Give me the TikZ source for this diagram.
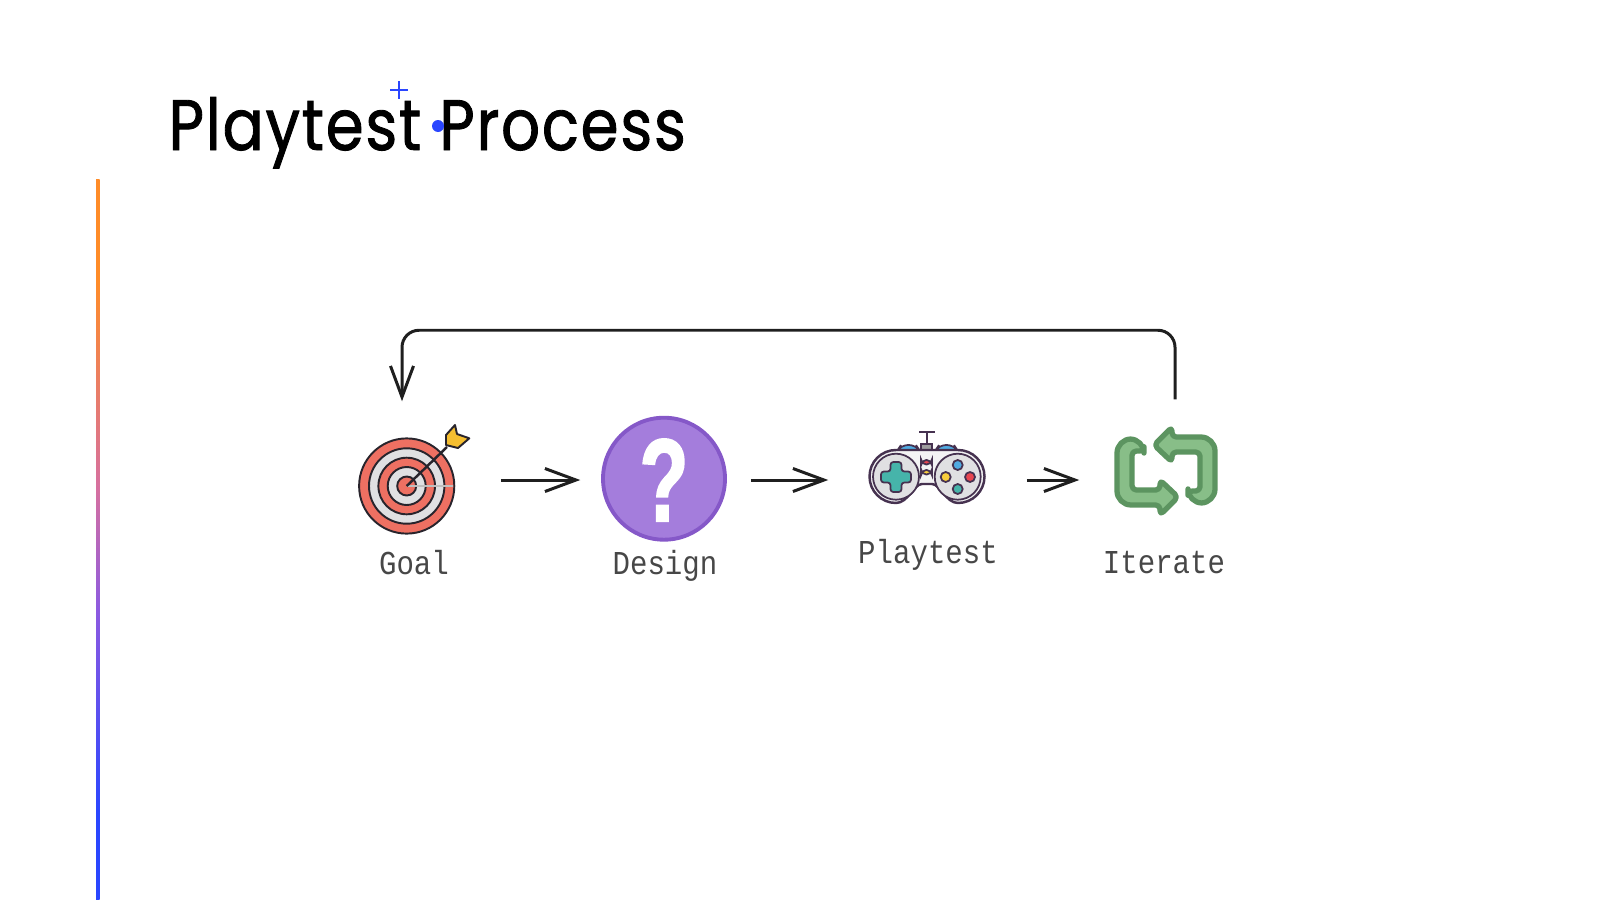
\documentclass[tikz,border=0pt]{standalone}
\usepackage{fontspec}
\usepackage{xcolor}
\usetikzlibrary{arrows.meta,positioning}
\newfontfamily\titlefont[FakeBold=1.2,FakeStretch=0.855,LetterSpace=2.5]{Poppins}
\newfontfamily\markfont[FakeStretch=0.68,FakeBold=1.5]{Liberation Sans Bold}
\newfontfamily\capfont[FakeStretch=0.87]{Liberation Mono}
\definecolor{redring}{RGB}{238,112,98}
\definecolor{greyring}{RGB}{224,224,226}
\definecolor{darkink}{RGB}{40,36,44}
\definecolor{gold}{RGB}{245,190,48}
\definecolor{purplefill}{RGB}{164,125,220}
\definecolor{purpleedge}{RGB}{133,88,200}
\definecolor{padink}{RGB}{70,50,80}
\definecolor{padteal}{RGB}{70,180,170}
\definecolor{padblue}{RGB}{80,170,225}
\definecolor{padred}{RGB}{232,70,80}
\definecolor{padyellow}{RGB}{248,205,60}
\definecolor{greenfill}{RGB}{136,190,136}
\definecolor{greenedge}{RGB}{92,148,96}
\definecolor{markblue}{RGB}{42,70,255}
\definecolor{barorange}{RGB}{255,140,40}
\definecolor{barpink}{RGB}{214,112,160}
\definecolor{barpurple}{RGB}{140,90,225}
\pgfdeclareverticalshading{barfade}{100bp}{
    color(0bp)=(markblue);
    color(31bp)=(markblue);
    color(45bp)=(barpurple);
    color(53.5bp)=(barpink);
    color(68bp)=(barorange);
    color(100bp)=(barorange)
}

\begin{document}
\begin{tikzpicture}[
    x=0.01cm, y=-0.01cm,
    iconbox/.style={minimum width=#1, minimum height=1.6cm, inner sep=0pt},
    caption/.style={font=\capfont\fontsize{9.5}{11}\selectfont, text=black!72},
    arrow/.style={-{Straight Barb[length=0.31cm, width=0.23cm]}, line width=0.85pt, draw=black!88},
    ring/.style={draw=darkink, line width=0.55pt},
    padline/.style={draw=padink, line width=0.5pt}
]
\useasboundingbox (0,0) rectangle (1600,900);

% Side bar and title
\shade[shading=barfade] (96,179) rectangle (99.5,900);
\node[anchor=base west, inner sep=0pt, font=\titlefont\fontsize{20.3}{24}\selectfont] (title) at (168,150) {Playtest Process};
\fill[markblue] (438,126) circle [radius=6];
\draw[markblue, line width=0.55pt] (390,90) -- (408,90) (399,81) -- (399,99);

% Boxes the arrows run between
\node[iconbox=1.96cm] (goal) at (402,480) {};
\node[iconbox=1.69cm] (design) at (665.5,480) {};
\node[iconbox=1.97cm] (playtest) at (927.5,480) {};
\node[iconbox=1.9cm] (iterate) at (1175,480) {};

% Target
\fill[redring, ring] (406.7,486) circle [radius=47.6];
\fill[greyring, ring] (406.7,486) circle [radius=37.7];
\fill[redring, ring] (406.7,486) circle [radius=28.3];
\fill[greyring, ring] (406.7,486) circle [radius=19];
\fill[redring, ring] (406.7,486) circle [radius=9.5];
\draw[black!25, line width=0.3pt] (406.7,486) -- (453,486);
\draw[darkink, line width=0.7pt] (406.7,486) -- (447,447);
\fill[gold, ring, line join=round] (455,425) -- (457,434) -- (469.3,438.3) -- (458,448) -- (446,445) -- (446,435) -- cycle;

% Question mark
\fill[purplefill, draw=purpleedge, line width=1.1pt] (664,478.7) circle [radius=61];
\node[inner sep=0pt, text=white, font=\markfont\fontsize{33.5}{34}\selectfont] (mark) at (664,480) {?};

% Game pad
\draw[padline] (926.7,432) -- (926.7,446) (919,432) -- (935,432);
\fill[greyring!70!black, padline] (921,444) rectangle (932,451);
\fill[padblue, padline, rounded corners=2pt] (897,451) -- (901,445) -- (916,445) -- (920,451) -- cycle;
\fill[padblue, padline, rounded corners=2pt] (935,451) -- (939,445) -- (954,445) -- (958,451) -- cycle;
\fill[greyring!40, padline, line width=0.7pt] (896,450) -- (958,450) arc[start angle=-90, end angle=90, radius=26.5] .. controls (946,503) and (940,484) .. (932,484) -- (922,484) .. controls (914,484) and (908,503) .. (896,503) arc[start angle=90, end angle=270, radius=26.5] -- cycle;
\fill[greyring, padline] (896,476.7) circle [radius=23];
\fill[greyring, padline] (957.7,476.7) circle [radius=23];
\fill[padteal, padline, rounded corners=0.8pt] (890.5,462) -- (901.5,462) -- (901.5,471.5) -- (911,471.5) -- (911,482.5) -- (901.5,482.5) -- (901.5,492) -- (890.5,492) -- (890.5,482.5) -- (881,482.5) -- (881,471.5) -- (890.5,471.5) -- cycle;
\fill[padred, padline, rounded corners=1.5pt] (921,460) rectangle (932,464.5);
\fill[padyellow, padline, rounded corners=1.5pt] (921,470) rectangle (932,474.5);
\fill[padblue, padline] (957.7,465) circle [radius=5];
\fill[padyellow, padline] (945.7,477) circle [radius=5];
\fill[padred, padline] (970,477) circle [radius=5];
\fill[padteal, padline] (957.7,489) circle [radius=5];

% Repeat icon
\foreach \turn in {0,180} {
    \begin{scope}[rotate around={\turn:(1166,471)}]
        \fill[greenfill, draw=greenedge, line width=1.5pt, line join=round, rounded corners=1.2pt]
        (1144,439) -- (1144,451) -- (1132,451) -- (1132,490) -- (1160,490) -- (1160,480) -- (1178,497) -- (1160,515) -- (1160,505) [rounded corners=4pt] -- (1117,505) -- (1117,439) -- cycle;
    \end{scope}
}

% Captions
\node[caption] (goalcap) at (414,563) {Goal};
\node[caption] (designcap) at (665,566) {Design};
\node[caption] (playcap) at (928,555) {Playtest};
\node[caption] (itercap) at (1164,563) {Iterate};

% Arrows
\draw[arrow] (goal.east) -- (design.west);
\draw[arrow] (design.east) -- (playtest.west);
\draw[arrow] (playtest.east) -- (iterate.west);
\draw[arrow, rounded corners=0.17cm, shorten >=-0.02cm] (iterate.north) -- ++(0,-69) -| (goal.north);

\end{tikzpicture}
\end{document}
